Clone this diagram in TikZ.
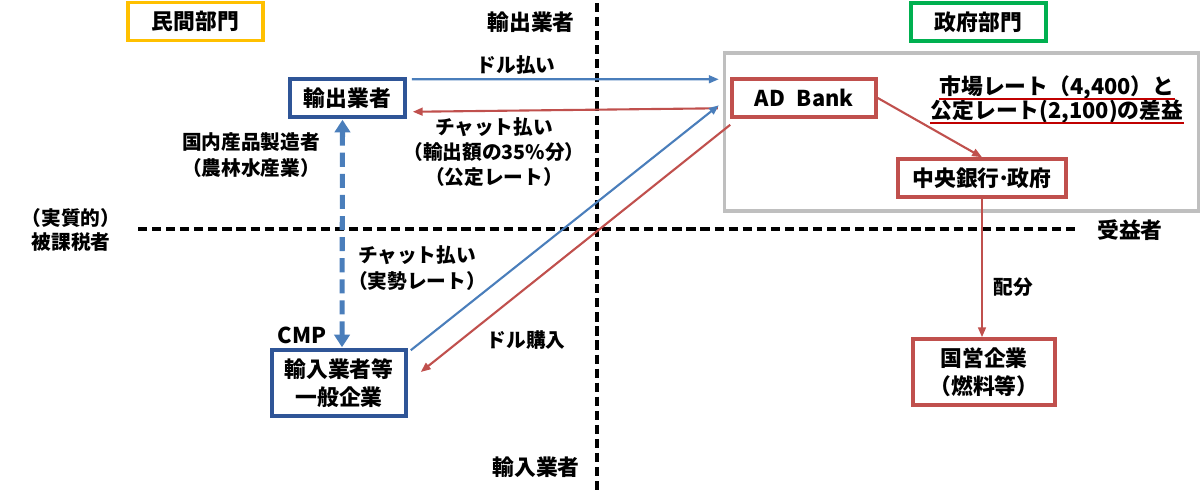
\documentclass[tikz,border=0pt]{standalone}
\usepackage{fontspec}
\setmainfont{Noto Sans CJK JP}
\usetikzlibrary{arrows.meta,calc}
\definecolor{myblue}{HTML}{4A7EBB}
\definecolor{myred}{HTML}{C0504D}
\definecolor{boxblue}{HTML}{2F5597}
\definecolor{ygold}{HTML}{FFC000}
\definecolor{ggreen}{HTML}{00B050}
\definecolor{ggray}{HTML}{BFBFBF}
\definecolor{ulred}{HTML}{C00000}
\begin{document}
\begin{tikzpicture}[x=0.025cm,y=-0.025cm,
  font=\bfseries\fontsize{14}{18}\selectfont,
  lbl/.style={align=center, inner sep=0pt},
  bigfont/.style={font=\bfseries\fontsize{15.5}{19}\selectfont},
  bluebox/.style={draw=boxblue, line width=2.5pt, fill=white, align=center, inner sep=0pt, bigfont},
  redbox/.style={draw=myred, line width=2.5pt, fill=white, align=center, inner sep=0pt, bigfont},
  secbox/.style={line width=2.5pt, fill=white, align=center, inner sep=0pt, bigfont, minimum width=3.375cm, minimum height=0.96cm},
  divline/.style={black, line width=2.4pt, dash pattern=on 6.5pt off 3.5pt},
  bluearr/.style={myblue, line width=1.5pt, -{Triangle[length=7pt,width=5.5pt]}},
  redarr/.style={myred, line width=1.5pt, -{Triangle[length=7pt,width=5.5pt]}},
  bluedash/.style={myblue, line width=3.6pt, dash pattern=on 10pt off 5pt, {Triangle[length=9pt,width=11pt]}-{Triangle[length=9pt,width=11pt]}},
  ul/.style={ulred, line width=1.4pt}
]
\useasboundingbox (0,0) rectangle (1200,495);

% divider lines
\coordinate (vtop) at (597,3);
\coordinate (vbot) at (597,495);
\coordinate (hl) at (138,229);
\coordinate (hr) at (1076,229);
\draw[divline] (vtop) -- (vbot);
\draw[divline] (hl) -- (hr);

% sector labels
\node[secbox, draw=ygold] (minkan) at (195.5,21.5) {民間部門};
\node[secbox, draw=ggreen] (seifu) at (978.5,22) {政府部門};

% government gray box
\node[draw=ggray, line width=2.4pt, minimum width=11.85cm, minimum height=3.95cm, inner sep=0pt] (gov) at (961.5,132) {};

% main boxes
\node[bluebox, minimum width=2.875cm, minimum height=0.95cm] (exp) at (347.5,98) {輸出業者};
\node[bluebox, minimum width=3.35cm, minimum height=1.65cm, font=\bfseries\fontsize{15.5}{20}\selectfont] (imp) at (339,383) {輸入業者等\\一般企業};
\node[redbox, minimum width=3.6cm, minimum height=0.95cm] (adb) at (804,98) {AD\hspace{0.55em}Bank};
\node[redbox, minimum width=4.2cm, minimum height=0.95cm] (cb) at (982,178) {中央銀行\kern-0.12em·\kern-0.12em政府};
\node[redbox, minimum width=3.55cm, minimum height=1.65cm, font=\bfseries\fontsize{15.5}{20}\selectfont] (soe) at (984,372) {国営企業\\（燃料等）};

% text labels
\node[lbl, bigfont] (lexp) at (531,22) {輸出業者};
\node[lbl, bigfont] (limp) at (536,467) {輸入業者};
\node[lbl] (ldollar) at (516,65) {ドル払い};
\node[lbl, font=\bfseries\fontsize{14}{17.7}\selectfont] (lchat) at (494,152) {チャット払い\\（輸出額の35\%分）\\（公定レート）};
\node[lbl, font=\bfseries\fontsize{14}{18.4}\selectfont] (ldom) at (251,155) {国内産品製造者\\（農林水産業）};
\node[lbl, font=\bfseries\fontsize{14}{17}\selectfont] (ltax) at (71,230) {（実質的）\\被課税者};
\node[lbl, bigfont] (lben) at (1130,230) {受益者};
\node[lbl, font=\bfseries\fontsize{14}{19}\selectfont] (lchat2) at (417,268) {チャット払い\\（実勢レート）};
\node[lbl, bigfont] (lcmp) at (302,335) {CMP};
\node[lbl] (lbuy) at (526,340) {ドル購入};
\node[lbl] (lhai) at (1013,287) {配分};
\node[lbl, bigfont] (d1) at (1057,88) {市場レート（4,400）と};
\node[lbl, bigfont] (d2) at (1057,112) {公定レート(2,100)の差益};
\draw[ul] ($(d1.base west)+(0,4)$) -- ($(d1.base east)+(0,4)$);
\draw[ul] ($(d2.base west)+(0,4)$) -- ($(d2.base east)+(0,4)$);

% connectors
\draw[bluearr] ($(exp.north east)+(5,2)$) -- ($(gov.north west)+(-4,28)$);
\draw[redarr] ($(gov.north west)+(-5,57)$) -- ($(exp.south east)+(6,-7)$);
\draw[bluearr] ($(imp.north east)+(3,2)$) -- ($(gov.north west)+(-4,54)$);
\draw[redarr] ($(adb.south west)+(0,6)$) -- ($(imp.east)+(13,-11)$);
\draw[redarr] (adb.east) -- (cb.north);
\draw[redarr] (cb.south) -- (cb.south |- soe.north);
\draw[bluedash] ($(exp.south)+(-5,1)$) -- ($(imp.north)+(3,-1)$);
\end{tikzpicture}
\end{document}
